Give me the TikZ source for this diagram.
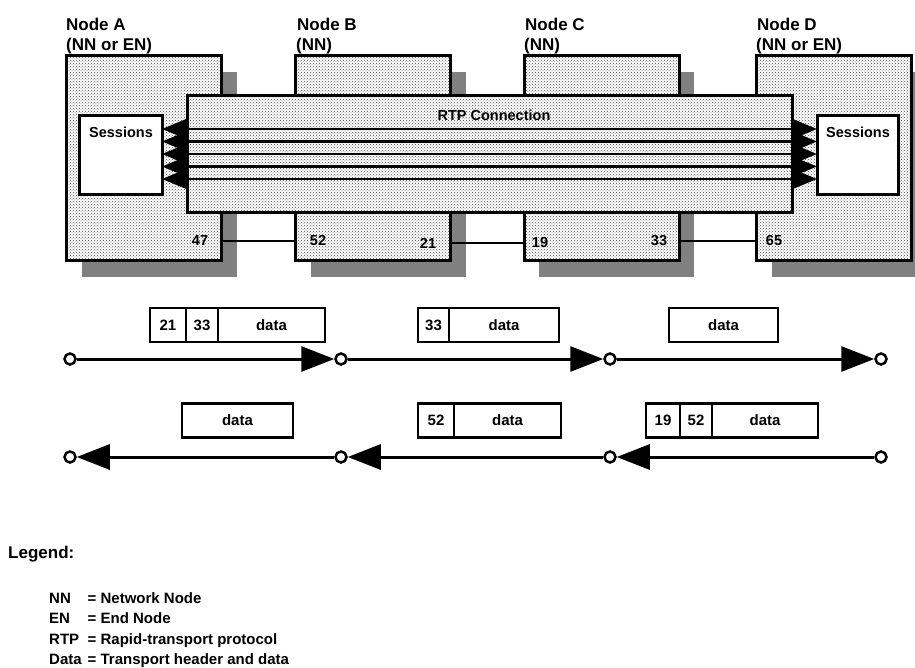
\documentclass[tikz,border=0pt]{standalone}
\usepackage{fontspec}
\setmainfont{Liberation Sans}
\usetikzlibrary{positioning,arrows.meta,patterns,shadows}

\tikzset{
  site/.style={drop shadow={shadow xshift=15pt, shadow yshift=-16pt, fill=black!50, opacity=1},
    preaction={fill=white}, pattern=crosshatch dots, pattern color=black!70,
    draw, line width=3pt, minimum width=155pt, minimum height=205pt, outer sep=0pt},
  pipe/.style={preaction={fill=white}, pattern=crosshatch dots, pattern color=black!70,
    draw, line width=3pt, minimum width=605pt, minimum height=117pt, outer sep=0pt},
  sessbox/.style={draw, fill=white, line width=3pt, minimum height=79pt, outer sep=0pt},
  title/.style={font=\fontsize{17}{19}\selectfont\bfseries, inner sep=0pt, anchor=base west},
  tag/.style={font=\fontsize{14.5}{17}\selectfont\bfseries, inner sep=0pt},
  link/.style={line width=2pt},
  chan/.style={line width=2.5pt, {Triangle[length=25pt,width=20pt]}-{Triangle[length=25pt,width=20pt]}},
  stop/.style={circle, draw, fill=white, line width=2.5pt, minimum size=11pt, inner sep=0pt},
  flow/.style={line width=3pt, -{Triangle[length=33pt,width=25pt]}},
  cell/.style={draw, line width=2.5pt, minimum height=34pt, inner sep=0pt, outer sep=0pt,
    font=\fontsize{15}{17}\selectfont\bfseries}
}

\begin{document}
\begin{tikzpicture}[x=1pt, y=-1pt]
  \clip (0,0) rectangle (915,668);

  % nodes along the route
  \node[site] (siteA) at (144,158.5) {};
  \node[site] (siteB) at (373,158.5) {};
  \node[site] (siteC) at (601.5,158.5) {};
  \node[site] (siteD) at (834,158.5) {};

  \node[title] (nameA) at (66,31) {Node A};
  \node[title] (kindA) at (66,51) {(NN or EN)};
  \node[title] (nameB) at (297,31) {Node B};
  \node[title] (kindB) at (296,51) {(NN)};
  \node[title] (nameC) at (525,31) {Node C};
  \node[title] (kindC) at (524,51) {(NN)};
  \node[title] (nameD) at (757,31) {Node D};
  \node[title] (kindD) at (756,51) {(NN or EN)};

  \node[tag] (p47) at (200,241) {47};
  \node[tag] (p52) at (318,241) {52};
  \node[tag] (p21) at (428,243) {21};
  \node[tag] (p19) at (540,243) {19};
  \node[tag] (p33) at (659,241) {33};
  \node[tag] (p65) at (774,241) {65};

  \draw[link] (siteA.east |- p47) -- (siteB.west |- p47);
  \draw[link] (siteB.east |- p21) -- (siteC.west |- p21);
  \draw[link] (siteC.east |- p33) -- (siteD.west |- p33);

  % the connection
  \node[pipe] (rtp) at (489.5,154.5) {};
  \node[tag] (rtplabel) at (494,115) {RTP Connection};

  \node[sessbox, minimum width=83pt] (sesL) at (120.5,155.5) {};
  \node[sessbox, minimum width=81pt] (sesR) at (857.5,155.5) {};
  \node[tag, anchor=west] (sesLtext) at (89,132) {Sessions};
  \node[tag, anchor=west] (sesRtext) at (826,132) {Sessions};

  \foreach \y in {129,141.5,154,166.5,179}
    \draw[chan] (sesL.east |- 0,\y) -- (sesR.west |- 0,\y);

  % hops from A to D
  \node[stop] (t1) at (70,359) {};
  \node[stop] (t2) at (341,359) {};
  \node[stop] (t3) at (610,359) {};
  \node[stop] (t4) at (881,359) {};
  \draw[flow] (t1) -- (t2);
  \draw[flow] (t2) -- (t3);
  \draw[flow] (t3) -- (t4);

  \node[cell, minimum width=36pt, anchor=west] (e21) at (150,325) {21};
  \node[cell, minimum width=32pt, right=0pt of e21] (e33) {33};
  \node[cell, minimum width=107pt, right=0pt of e33] (e1data) {data};
  \node[cell, minimum width=31pt, anchor=west] (f33) at (418,325) {33};
  \node[cell, minimum width=110pt, right=0pt of f33] (e2data) {data};
  \node[cell, minimum width=109pt, anchor=west] (e3data) at (669,325) {data};

  % hops from D to A
  \node[stop] (b1) at (70,457) {};
  \node[stop] (b2) at (341,457) {};
  \node[stop] (b3) at (610,457) {};
  \node[stop] (b4) at (881,457) {};
  \draw[flow] (b2) -- (b1);
  \draw[flow] (b3) -- (b2);
  \draw[flow] (b4) -- (b3);

  \node[cell, minimum width=111pt, anchor=west] (w1data) at (182,420.5) {data};
  \node[cell, minimum width=36pt, anchor=west] (w52) at (418,420.5) {52};
  \node[cell, minimum width=107pt, right=0pt of w52] (w2data) {data};
  \node[cell, minimum width=34pt, anchor=west] (w19) at (646,420.5) {19};
  \node[cell, minimum width=32pt, right=0pt of w19] (w52b) {52};
  \node[cell, minimum width=106pt, right=0pt of w52b] (w3data) {data};

  % legend
  \node[title] (legend) at (8,558) {Legend:};
  \node[anchor=north west, inner sep=0pt, font=\fontsize{15}{20.5}\selectfont\bfseries] (legendtab) at (49,588.5)
    {\begin{tabular}{@{}l@{\hspace{6pt}}l@{}}
      NN & = Network Node\\
      EN & = End Node\\
      RTP & = Rapid-transport protocol\\
      Data & = Transport header and data
    \end{tabular}};
\end{tikzpicture}
\end{document}
